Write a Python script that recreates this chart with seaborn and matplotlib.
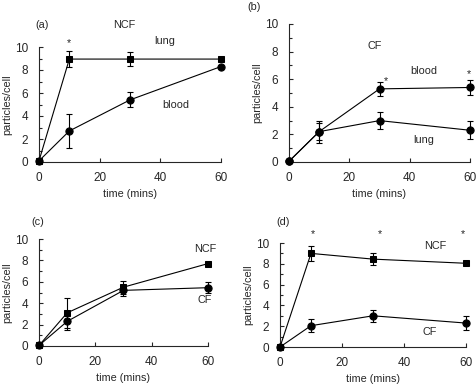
import matplotlib
matplotlib.use("Agg")
import matplotlib.pyplot as plt
import seaborn as sns
import pandas as pd
import numpy as np
from matplotlib.ticker import MultipleLocator

sns.set_style("ticks")
plt.rcParams['font.family'] = ['Liberation Sans', 'DejaVu Sans']

time = [0, 10, 30, 60]

# (a) NCF
a_lung = [0.1, 8.95, 8.95, 8.95]
a_lung_err = [0, 0.7, 0.6, 0]
a_blood = [0.1, 2.7, 5.4, 8.3]
a_blood_err = [0, 1.5, 0.65, 0]
# (b) CF
b_blood = [0.05, 2.2, 5.3, 5.4]
b_blood_err = [0, 0.6, 0.5, 0.55]
b_lung = [0.05, 2.2, 3.0, 2.3]
b_lung_err = [0, 0.8, 0.6, 0.65]
# (c)
c_ncf = [0.05, 3.1, 5.5, 7.7]
c_ncf_err = [0, 1.4, 0.6, 0]
c_cf = [0.05, 2.3, 5.2, 5.45]
c_cf_err = [0, 0.8, 0.5, 0.5]
# (d)
d_ncf = [0.0, 9.0, 8.45, 8.05]
d_ncf_err = [0, 0.7, 0.55, 0]
d_cf = [0.0, 2.05, 3.0, 2.3]
d_cf_err = [0, 0.65, 0.55, 0.65]

W, H = 477, 384
fig = plt.figure(figsize=(W / 100, H / 100), dpi=100)

def px_axes(l, r, t, b):
    return fig.add_axes([l / W, (H - b) / H, (r - l) / W, (b - t) / H])

FS = 7.8
TFS = 8.5

def series(ax, y, err, marker):
    df = pd.DataFrame({"t": time, "v": y})
    sns.lineplot(data=df, x="t", y="v", ax=ax, color="black", lw=0.8,
                 marker=marker, markersize=5.2 if marker == "o" else 4.8,
                 markeredgecolor="black", clip_on=False, zorder=3)
    e = np.array(err)
    mask = e > 0
    ax.errorbar(np.array(time)[mask], np.array(y)[mask], yerr=e[mask], fmt="none",
                ecolor="black", elinewidth=0.8, capsize=2.5, capthick=0.8,
                clip_on=False, zorder=2)

def style(ax):
    ax.set_xlim(0, 60)
    ax.set_ylim(0, 10)
    ax.xaxis.set_major_locator(MultipleLocator(20))
    ax.yaxis.set_major_locator(MultipleLocator(2))
    ax.yaxis.set_minor_locator(MultipleLocator(1))
    ax.tick_params(direction="in", length=3, width=0.8, labelsize=TFS)
    ax.tick_params(axis="y", pad=8)
    ax.tick_params(axis="x", pad=7)
    ax.tick_params(which="minor", direction="in", length=2, width=0.8)
    sns.despine(ax=ax)
    for s in ("left", "bottom"):
        ax.spines[s].set_linewidth(0.8)
    ax.set_xlabel("time (mins)", fontsize=FS, labelpad=4)
    ax.set_ylabel("particles/cell", fontsize=FS, labelpad=2)

def txt(ax, x, y, s, **kw):
    ax.text(x, y, s, fontsize=FS, ha="center", va="center", clip_on=False, **kw)

# (a)
ax = px_axes(39, 221, 47, 162)
series(ax, a_lung, a_lung_err, "s")
series(ax, a_blood, a_blood_err, "o")
style(ax)
txt(ax, 0.9, 11.9, "(a)")
txt(ax, 28, 11.9, "NCF")
txt(ax, 41.5, 10.5, "lung")
txt(ax, 45.2, 5.0, "blood")
txt(ax, 9.9, 10.3, "*")

# (b)
ax = px_axes(289, 470, 24, 162)
series(ax, b_blood, b_blood_err, "o")
series(ax, b_lung, b_lung_err, "o")
style(ax)
txt(ax, -11.5, 11.2, "(b)")
txt(ax, 28.5, 8.4, "CF")
txt(ax, 44.8, 6.6, "blood")
txt(ax, 44.8, 1.6, "lung")
txt(ax, 32.2, 5.9, "*")
txt(ax, 59.7, 6.4, "*")

# (c)
ax = px_axes(39, 208, 239, 346)
series(ax, c_ncf, c_ncf_err, "s")
series(ax, c_cf, c_cf_err, "o")
style(ax)
txt(ax, -0.3, 11.6, "(c)")
txt(ax, 58.9, 9.1, "NCF")
txt(ax, 58.9, 4.3, "CF")

# (d)
ax = px_axes(280, 466, 243, 347)
series(ax, d_ncf, d_ncf_err, "s")
series(ax, d_cf, d_cf_err, "o")
style(ax)
txt(ax, 1.0, 12.0, "(d)")
txt(ax, 10.6, 10.9, "*")
txt(ax, 32.3, 10.9, "*")
txt(ax, 59.0, 10.9, "*")
txt(ax, 50.0, 9.7, "NCF")
txt(ax, 48.4, 1.45, "CF")

fig.savefig("out.png", dpi=100)
